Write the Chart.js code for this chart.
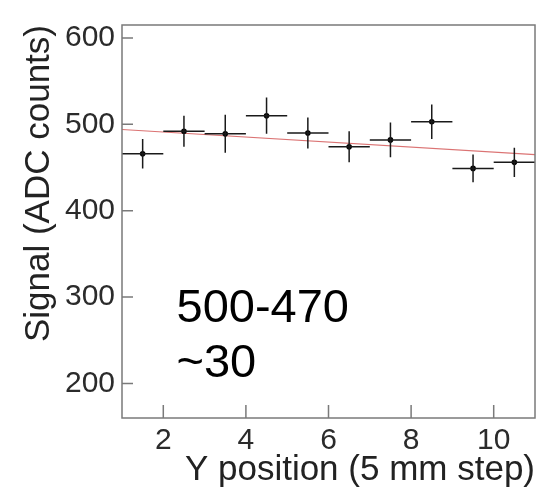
<!DOCTYPE html>
<html>
<head>
<meta charset="utf-8">
<script src="https://cdn.jsdelivr.net/npm/chart.js@4"></script>
<style>
  html, body { margin: 0; padding: 0; background: #fff; }
  #wrap { width: 543px; height: 492px; }
</style>
</head>
<body>
<div id="wrap"><canvas id="chart-signal"></canvas></div>
<script>
// measured signal per Y position
var posX = [1.5, 2.5, 3.5, 4.5, 5.5, 6.5, 7.5, 8.5, 9.5, 10.5];
var signalY = [466, 492, 489, 510, 490, 474, 482, 503, 449, 456];
var errY = [17, 18, 22, 21, 18, 18, 20, 20, 16, 17];
var errX = [0.5, 0.5, 0.5, 0.5, 0.5, 0.5, 0.5, 0.5, 0.5, 0.5];

// linear fit
var fitX = [1, 11];
var fitY = [494, 465];

var xTicks = [2, 4, 6, 8, 10];
var yTicks = [200, 300, 400, 500, 600];
var noteLines = ["500-470", "~30"];

var fontFam = '"Liberation Sans", Arial, Helvetica, sans-serif';

// error bars, frame and inward ticks (ROOT style)
var rootStyle = {
  id: 'rootStyle',
  afterDatasetsDraw: function (chart) {
    var ctx = chart.ctx, xs = chart.scales.x, ys = chart.scales.y;
    ctx.save();
    ctx.strokeStyle = '#1a1a1a';
    ctx.lineWidth = 1.5;
    for (var i = 0; i < posX.length; i++) {
      var px = xs.getPixelForValue(posX[i]);
      var py = ys.getPixelForValue(signalY[i]);
      ctx.beginPath();
      ctx.moveTo(xs.getPixelForValue(posX[i] - errX[i]), py);
      ctx.lineTo(xs.getPixelForValue(posX[i] + errX[i]), py);
      ctx.moveTo(px, ys.getPixelForValue(signalY[i] - errY[i]));
      ctx.lineTo(px, ys.getPixelForValue(signalY[i] + errY[i]));
      ctx.stroke();
    }
    ctx.restore();
  },
  afterDraw: function (chart) {
    var ctx = chart.ctx, a = chart.chartArea;
    var xs = chart.scales.x, ys = chart.scales.y;
    ctx.save();
    ctx.strokeStyle = '#7a7a7a';
    ctx.lineWidth = 1.5;
    ctx.strokeRect(a.left, a.top, a.right - a.left, a.bottom - a.top);
    ctx.beginPath();
    xTicks.forEach(function (v) {
      var p = xs.getPixelForValue(v);
      ctx.moveTo(p, a.bottom);
      ctx.lineTo(p, a.bottom - 13);
    });
    yTicks.forEach(function (v) {
      var p = ys.getPixelForValue(v);
      ctx.moveTo(a.left, p);
      ctx.lineTo(a.left + 11, p);
    });
    ctx.stroke();

    // note text
    ctx.fillStyle = '#000';
    ctx.font = '47px ' + fontFam;
    ctx.textBaseline = 'alphabetic';
    ctx.textAlign = 'left';
    var tx = xs.getPixelForValue(2.32);
    ctx.fillText(noteLines[0], tx, ys.getPixelForValue(271));
    ctx.fillText(noteLines[1], tx, ys.getPixelForValue(207));
    ctx.restore();
  }
};

var ctx = document.getElementById("chart-signal").getContext("2d");
new Chart(ctx, {
  type: "scatter",
  data: {
    datasets: [
      {
        label: "Signal",
        data: posX.map(function (x, i) { return { x: x, y: signalY[i] }; }),
        pointRadius: 2.8,
        pointBackgroundColor: '#000',
        pointBorderWidth: 0,
        showLine: false,
        order: 1,
      },
      {
        label: "Fit",
        type: "line",
        data: fitX.map(function (x, i) { return { x: x, y: fitY[i] }; }),
        borderColor: 'rgba(210, 80, 80, 0.8)',
        borderWidth: 1.2,
        pointRadius: 0,
        fill: false,
        order: 2,
      },
    ],
  },
  options: {
    responsive: true,
    maintainAspectRatio: false,
    animation: false,
    layout: {
      padding: { left: 18, top: 9, right: 8, bottom: 0 },
    },
    plugins: {
      legend: { display: false },
      tooltip: { enabled: false },
    },
    scales: {
      x: {
        type: 'linear',
        min: 1,
        max: 11,
        afterBuildTicks: function (scale) {
          scale.ticks = xTicks.map(function (v) { return { value: v }; });
        },
        afterFit: function (scale) { scale.height = 74; },
        grid: { display: false, drawTicks: false },
        border: { display: false },
        ticks: {
          padding: 5,
          color: '#2b2b2b',
          maxRotation: 0,
          font: { size: 30, family: fontFam },
        },
        title: {
          display: true,
          text: 'Y position (5 mm step)',
          align: 'end',
          color: '#222',
          padding: { top: 0, bottom: 1 },
          font: { size: 35, family: fontFam },
        },
      },
      y: {
        type: 'linear',
        min: 160,
        max: 615,
        afterBuildTicks: function (scale) {
          scale.ticks = yTicks.map(function (v) { return { value: v }; });
        },
        afterFit: function (scale) { scale.width = 104; },
        grid: { display: false, drawTicks: false },
        border: { display: false },
        ticks: {
          padding: 7,
          color: '#2b2b2b',
          font: { size: 30, family: fontFam },
        },
        title: {
          display: true,
          text: 'Signal (ADC counts)',
          align: 'end',
          color: '#222',
          padding: 0,
          font: { size: 35, family: fontFam },
        },
      },
    },
  },
  plugins: [rootStyle],
});
</script>
</body>
</html>
